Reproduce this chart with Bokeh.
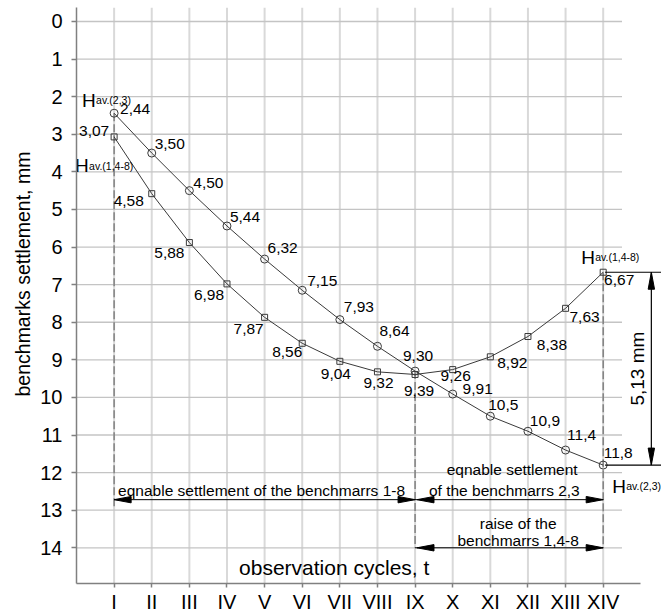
import math
from bokeh.plotting import figure
from bokeh.models import Range1d, FixedTicker, ColumnDataSource, Title
from bokeh.core.properties import value
from bokeh.embed import file_html
from bokeh.resources import INLINE

# ---------------- data ----------------
cycles = ["I", "II", "III", "IV", "V", "VI", "VII", "VIII", "IX", "X", "XI", "XII", "XIII", "XIV"]
cycle_pos = list(range(1, 15))
h_av_23 = [2.44, 3.50, 4.50, 5.44, 6.32, 7.15, 7.93, 8.64, 9.30, 9.91, 10.5, 10.9, 11.4, 11.8]
h_av_148 = [3.07, 4.58, 5.88, 6.98, 7.87, 8.56, 9.04, 9.32, 9.39, 9.26, 8.92, 8.38, 7.63, 6.67]
text_23 = ["2,44", "3,50", "4,50", "5,44", "6,32", "7,15", "7,93", "8,64", "9,30", "9,91", "10,5", "10,9", "11,4", "11,8"]
text_148 = ["3,07", "4,58", "5,88", "6,98", "7,87", "8,56", "9,04", "9,32", "9,39", "9,26", "8,92", "8,38", "7,63", "6,67"]
y_ticks = list(range(0, 15))

# label offsets (pixels) – styling only
dx_23 = [21, 18, 19, 18, 18, 20, 19, 17, 3, 25, 13, 17, 16, 15]
dy_23 = [-4, -9, -8, -9, -11, -9, -13, -15, -15, -5, -11, -10, -15, -12]
dx_148 = [-20, -23, -20, -18, -16, -15, -4, 1, 4, 3, 22, 24, 19, 16]
dy_148 = [-6, 7, 10, 11, 12, 9, 13, 11, 17, 6, 6, 8, 9, 8]

FONT = "Liberation Sans"
Y_TOP = -0.372
Y_BOTTOM = 14.95
X_END = 15.55

p = figure(width=661, height=615, x_range=Range1d(0, X_END), y_range=Range1d(Y_BOTTOM, Y_TOP),
           output_backend="svg", toolbar_location=None,
           min_border_left=76, min_border_right=0, min_border_top=7, min_border_bottom=32)
p.outline_line_color = None
p.xgrid.visible = False
p.ygrid.visible = False
p.background_fill_color = "white"

# axes
xa = p.xaxis[0]
xa.ticker = FixedTicker(ticks=cycle_pos)
xa.major_label_overrides = {i: c for i, c in zip(cycle_pos, cycles)}
xa.bounds = (0, 15)
ya = p.yaxis[0]
ya.ticker = FixedTicker(ticks=y_ticks)
for ax in (xa, ya):
    ax.axis_line_color = "#808080"
    ax.axis_line_width = 1.5
    ax.major_tick_line_color = "#808080"
    ax.major_tick_line_width = 1.5
    ax.major_tick_in = 0
    ax.minor_tick_line_color = None
    ax.major_label_text_font = FONT
    ax.major_label_text_color = "black"
xa.major_tick_out = 4
xa.major_label_standoff = 3
xa.major_label_text_font_size = "20px"
ya.major_tick_out = 5
ya.major_label_standoff = 9
ya.major_label_text_font_size = "20px"

# y axis title, placed like in the original (starts ~188 px above the frame bottom)
p.add_layout(Title(text="benchmarks settlement, mm", align="left", offset=187, standoff=8,
                   text_font=FONT, text_font_size="19.5px", text_font_style="normal",
                   text_color="black"), "left")

# grid lines (drawn as segments so that their extent matches the original)
p.segment(x0=cycle_pos, x1=cycle_pos, y0=[Y_TOP] * 14, y1=[15] * 14,
          line_color="#d9d9d9", line_width=2)
p.segment(x0=[0] * 15, x1=[14.5] * 15, y0=y_ticks, y1=y_ticks,
          line_color="#c4c4c4", line_width=1.3)

# dashed reference lines
ARROW_Y1 = 12.72
ARROW_Y2 = 14.0
p.segment(x0=[1, 9, 14], x1=[1, 9, 14],
          y0=[h_av_23[0], h_av_23[8], h_av_148[13]], y1=[12.95, 14, 14],
          line_color="#808080", line_width=1.5, line_dash="8 3")

# series
line_col = "#3a3a3a"
p.line(cycle_pos, h_av_23, line_color=line_col, line_width=1)
p.line(cycle_pos, h_av_148, line_color=line_col, line_width=1)
p.scatter(cycle_pos, h_av_23, marker="circle", size=8, fill_color=None, line_color=line_col, line_width=1)
p.scatter(cycle_pos, h_av_148, marker="square", size=6, fill_color=None, line_color=line_col, line_width=1)

# value labels
src23 = ColumnDataSource(dict(x=cycle_pos, y=h_av_23, t=text_23, dx=dx_23, dy=dy_23))
src148 = ColumnDataSource(dict(x=cycle_pos, y=h_av_148, t=text_148, dx=dx_148, dy=dy_148))
for s in (src23, src148):
    p.text(x="x", y="y", text="t", x_offset="dx", y_offset="dy", source=s,
           text_font=value(FONT), text_font_size="15.5px", text_color="black",
           text_align="center", text_baseline="middle")

# series names  H av.(...)
def hname(xv, yv, dx, dy, sub):
    p.text(x=[xv], y=[yv], text=["H"], x_offset=dx, y_offset=dy, text_font=value(FONT),
           text_font_size="19px", text_align="left", text_baseline="alphabetic", text_color="black")
    p.text(x=[xv], y=[yv], text=[sub], x_offset=dx + 14, y_offset=dy, text_font=value(FONT),
           text_font_size="10.5px", text_align="left", text_baseline="alphabetic", text_color="black")

hname(cycle_pos[0], h_av_23[0], -32, -13, "av.(2,3)")
hname(cycle_pos[0], h_av_148[0], -39, 29, "av.(1,4-8)")
hname(cycle_pos[13], h_av_148[13], -22, -15, "av.(1,4-8)")
hname(cycle_pos[13], h_av_23[13], 9, 21, "av.(2,3)")

# dimension arrows
p.segment(x0=[1, 9], x1=[14, 14], y0=[ARROW_Y1, ARROW_Y2], y1=[ARROW_Y1, ARROW_Y2],
          line_color="black", line_width=1)
DIM_X = 15.28
p.segment(x0=[14.05, 14.05, DIM_X], x1=[X_END, X_END, DIM_X],
          y0=[h_av_148[13], h_av_23[13], h_av_148[13]], y1=[h_av_148[13], h_av_23[13], h_av_23[13]],
          line_color="black", line_width=1.2)

PX = 37.6
L = 17 / PX
W = 3.2 / PX
heads = [(1, ARROW_Y1, -1, 0), (9, ARROW_Y1, 1, 0), (9.05, ARROW_Y1, -1, 0), (14, ARROW_Y1, 1, 0),
         (9.05, ARROW_Y2, -1, 0), (14, ARROW_Y2, 1, 0),
         (DIM_X, h_av_148[13], 0, -1), (DIM_X, h_av_23[13], 0, 1)]
hx, hy = [], []
for tx, ty, ux, uy in heads:
    if uy == 0:
        bx = tx - ux * L
        hx.append([tx, bx, bx])
        hy.append([ty, ty - W, ty + W])
    else:
        by = ty - uy * L
        hx.append([tx, tx - W, tx + W])
        hy.append([ty, by, by])
p.patches(hx, hy, fill_color="black", line_color="black", line_width=1)

diff_txt = f"{h_av_23[13] - h_av_148[13]:.2f}".replace(".", ",") + " mm"
p.text(x=[DIM_X], y=[(h_av_23[13] + h_av_148[13]) / 2], text=[diff_txt], x_offset=-14, angle=math.pi / 2,
       text_font=value(FONT), text_font_size="19px", text_align="center", text_baseline="middle",
       text_color="black")

# explanatory texts
def txt(xv, yv, s, dx=0, dy=0, size="15.5px", align="center"):
    p.text(x=[xv], y=[yv], text=[s], x_offset=dx, y_offset=dy, text_font=value(FONT),
           text_font_size=size, text_align=align, text_baseline="alphabetic", text_color="black")

txt(1, ARROW_Y1, "eqnable settlement of the benchmarrs 1-8", dx=4, dy=-9, align="left")
txt(11.58, ARROW_Y1, "eqnable settlement", dy=-30)
txt(11.43, ARROW_Y1, "of the benchmarrs  2,3", dy=-9)
txt(11.74, ARROW_Y2, "raise of the", dy=-24)
txt(11.74, ARROW_Y2, "benchmarrs 1,4-8", dy=-7)
txt(6.85, 14.52, "observation cycles, t", size="21px")

open("out.html", "w").write(file_html(p, INLINE))
